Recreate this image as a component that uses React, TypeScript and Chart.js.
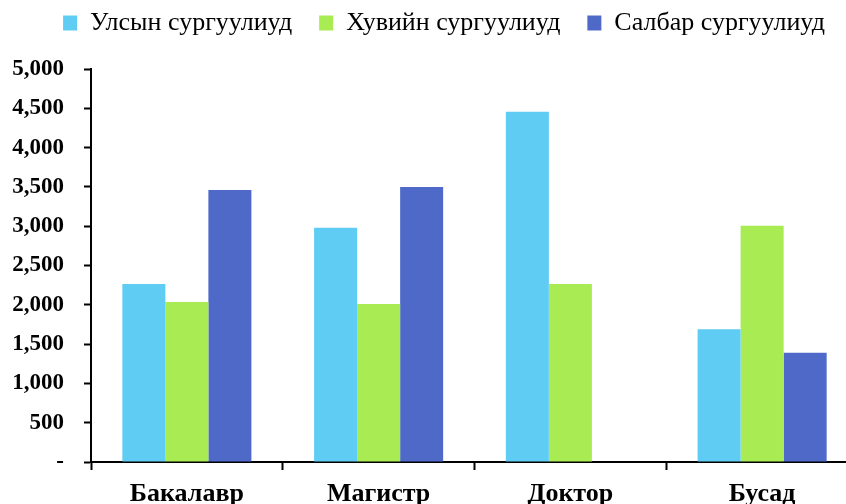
import React, { useEffect, useRef } from "react";
import { Chart, registerables } from "chart.js";

Chart.register(...registerables);

const categories = ["Бакалавр", "Магистр", "Доктор", "Бусад"];
const seriesNames = ["Улсын сургуулиуд", "Хувийн сургуулиуд", "Салбар сургуулиуд"];
const stateSchools = [2265, 2980, 4455, 1690];
const privateSchools = [2035, 2010, 2265, 3005];
const branchSchools = [3460, 3500, null, 1390];
const colors = ["#5ECCF3", "#A9EB52", "#4F69C9"];
const yTicks = [0, 500, 1000, 1500, 2000, 2500, 3000, 3500, 4000, 4500, 5000];

const legendTweak = {
  id: "legendTweak",
  beforeLayout(chart: any) {
    const lg: any = chart.legend;
    if (lg && !lg._patched) {
      const orig = lg.fit.bind(lg);
      lg.fit = function () {
        orig();
        this.height += 23;
      };
      lg._patched = true;
    }
  },
  afterLayout(chart: any) {
    if (chart.legend) chart.legend.left += 30;
  },
};

export default function App() {
  const ref = useRef<HTMLCanvasElement | null>(null);
  useEffect(() => {
    if (!ref.current) return;
    const serif = "'Liberation Serif', 'Times New Roman', serif";
    const chart = new Chart(ref.current, {
      type: "bar",
      data: {
        labels: categories,
        datasets: [stateSchools, privateSchools, branchSchools].map((d, i) => ({
          label: seriesNames[i],
          data: d as any,
          backgroundColor: colors[i],
          borderWidth: 0,
          barPercentage: 1,
          categoryPercentage: 0.673,
        })),
      },
      plugins: [legendTweak],
      options: {
        animation: false,
        responsive: true,
        maintainAspectRatio: false,
        layout: { padding: { left: 0, right: 2, top: -17, bottom: 0 } },
        plugins: {
          tooltip: { enabled: false },
          legend: {
            position: "top",
            align: "center",
            labels: {
              boxWidth: 14,
              boxHeight: 15,
              padding: 27,
              color: "#000",
              font: { family: serif, size: 26 },
            },
          },
        },
        scales: {
          x: {
            afterFit: (s: any) => { s.height = 42; },
            grid: {
              display: true,
              drawOnChartArea: false,
              drawTicks: true,
              tickLength: 8,
              tickWidth: 2,
              color: "#000",
              offset: true,
            },
            border: { display: true, color: "#000", width: 2 },
            ticks: {
              color: "#000",
              padding: 9,
              font: { family: serif, size: 26, weight: "bold" },
            },
          },
          y: {
            min: 0,
            max: 5000,
            afterFit: (s: any) => { s.width = 91; },
            afterBuildTicks: (s: any) => { s.ticks = yTicks.map((v) => ({ value: v })); },
            grid: {
              display: true,
              drawOnChartArea: false,
              drawTicks: true,
              tickLength: 7,
              tickWidth: 2,
              color: "#000",
            },
            border: { display: true, color: "#000", width: 2 },
            ticks: {
              color: "#000",
              padding: 20,
              font: { family: serif, size: 23, weight: "bold" },
              callback: (v: any) => (Number(v) === 0 ? "-" : Number(v).toLocaleString("en-US")),
            },
          },
        },
      },
    });
    return () => chart.destroy();
  }, []);
  return (
    <div style={{ position: "fixed", left: 0, top: 0, width: 846, height: 504, overflow: "hidden", background: "#fff" }}>
      <div style={{ position: "relative", width: 860, height: 504 }}>
        <canvas ref={ref} />
      </div>
    </div>
  );
}
